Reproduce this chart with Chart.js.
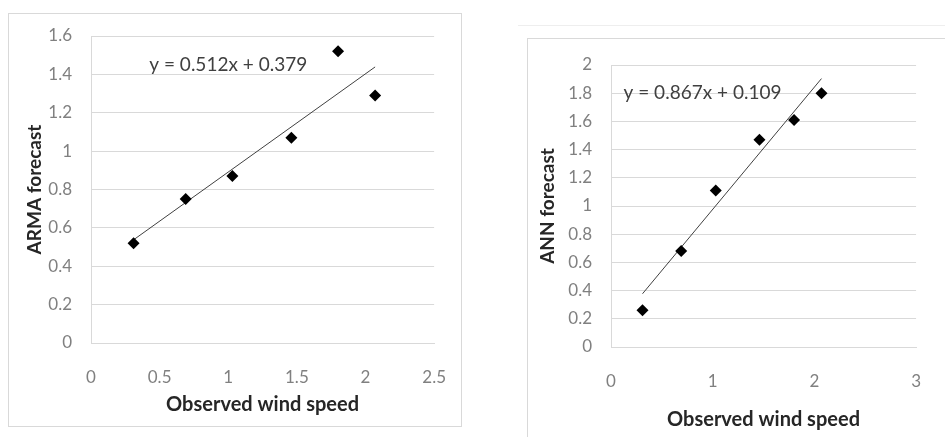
<!DOCTYPE html>
<html>
<head>
<meta charset="utf-8">
<script src="https://cdn.jsdelivr.net/npm/chart.js@4/dist/chart.umd.min.js"></script>
<style>
  body { margin: 0; background: #fff; width: 945px; height: 437px; overflow: hidden; position: relative; }
  .frame { position: absolute; border: 1px solid #d9d9d9; box-sizing: border-box; }
  canvas { position: absolute; top: 0; }
</style>
</head>
<body>
<div class="frame" style="left:8px; top:13px; width:454px; height:414px;"></div>
<div class="frame" style="left:518px; top:25px; width:440px; height:1px; border-width:1px 0 0 0; border-color:#eeeeee;"></div>
<div class="frame" style="left:527px; top:38px; width:430px; height:420px; border-right:none; border-bottom:none;"></div>
<canvas id="arma" width="470" height="437" style="left:0;"></canvas>
<canvas id="ann" width="470" height="437" style="left:475px;"></canvas>
<script>
// observed wind speed (x) and the two forecasts (y)
const obsWind = [0.31, 0.69, 1.03, 1.46, 1.80, 2.07];
const armaForecast = [0.52, 0.75, 0.87, 1.07, 1.52, 1.29];
const annForecast = [0.26, 0.68, 1.11, 1.47, 1.61, 1.80];

// linear trendlines shown on the charts: [slope, intercept]
const armaFit = [0.512, 0.379];
const annFit = [0.867, 0.109];

// axis ranges / steps
const armaXTicks = [0, 2.5, 0.5];
const armaYTicks = [0, 1.6, 0.2];
const annXTicks = [0, 3, 1];
const annYTicks = [0, 2, 0.2];

const tickColor = '#808080';
const gridColor = '#d9d9d9';
const titleColor = '#262626';

function pts(xs, ys) {
  return xs.map((x, i) => ({ x: x, y: ys[i] }));
}
function fitLine(xs, fit) {
  const x0 = Math.min(...xs), x1 = Math.max(...xs);
  return [{ x: x0, y: fit[0] * x0 + fit[1] }, { x: x1, y: fit[0] * x1 + fit[1] }];
}
function fmt(v) { return String(Number(v.toFixed(2))); }

// draws the "y = ax + b" label at a data position
const eqLabel = {
  id: 'eqLabel',
  afterDatasetsDraw(chart, args, opts) {
    const ctx = chart.ctx;
    const px = chart.scales.x.getPixelForValue(opts.x);
    const py = chart.scales.y.getPixelForValue(opts.y);
    ctx.save();
    ctx.font = '19px Lato';
    ctx.fillStyle = '#404040';
    ctx.textAlign = 'center';
    ctx.textBaseline = 'middle';
    ctx.fillText(opts.text, px, py);
    ctx.restore();
  }
};

function makeChart(id, ys, fit, xt, yt, yTitle, lay) {
  return new Chart(document.getElementById(id), {
    type: 'scatter',
    data: {
      datasets: [{
        data: pts(obsWind, ys),
        pointStyle: 'rectRot',
        pointRadius: 6,
        backgroundColor: '#000',
        borderColor: '#000',
        borderWidth: 0
      }, {
        type: 'line',
        data: fitLine(obsWind, fit),
        borderColor: '#404040',
        borderWidth: 1,
        pointRadius: 0
      }]
    },
    options: {
      responsive: false,
      animation: false,
      layout: { padding: { left: 0, top: lay.top, right: lay.right, bottom: 0 } },
      plugins: {
        legend: { display: false },
        tooltip: { enabled: false },
        eqLabel: { text: 'y = ' + fit[0] + 'x + ' + fit[1], x: lay.eqX, y: lay.eqY }
      },
      scales: {
        x: {
          type: 'linear',
          min: xt[0], max: xt[1],
          afterFit: s => { s.height = lay.xH; },
          ticks: { stepSize: xt[2], color: tickColor, font: { family: 'Lato', size: 17 }, padding: 24, callback: fmt },
          grid: { display: false, drawTicks: false },
          border: { display: true, color: gridColor },
          title: { display: true, text: 'Observed wind speed', color: titleColor,
                   font: { family: 'Lato', size: 20, weight: 'bold' }, padding: { top: 0, bottom: lay.xTitlePad } }
        },
        y: {
          min: yt[0], max: yt[1],
          afterFit: s => { s.width = lay.yW; },
          ticks: { stepSize: yt[2], color: tickColor, font: { family: 'Lato', size: 17 }, padding: 19, callback: fmt },
          grid: { color: gridColor, drawTicks: false },
          border: { display: true, color: gridColor },
          title: { display: true, text: yTitle, color: titleColor,
                   font: { family: 'Lato', size: 19, weight: 'bold' }, padding: { top: lay.yTitlePad, bottom: 0 } }
        }
      }
    },
    plugins: [eqLabel]
  });
}

makeChart('arma', armaForecast, armaFit, armaXTicks, armaYTicks, 'ARMA forecast',
  { top: 36, right: 35, xH: 94, yW: 91, xTitlePad: 20, yTitlePad: 23, eqX: 1.0, eqY: 1.45 });
makeChart('ann', annForecast, annFit, annXTicks, annYTicks, 'ANN forecast',
  { top: 65, right: 15, xH: 90, yW: 136, xTitlePad: 5, yTitlePad: 61, eqX: 0.9, eqY: 1.8 });
</script>
</body>
</html>
